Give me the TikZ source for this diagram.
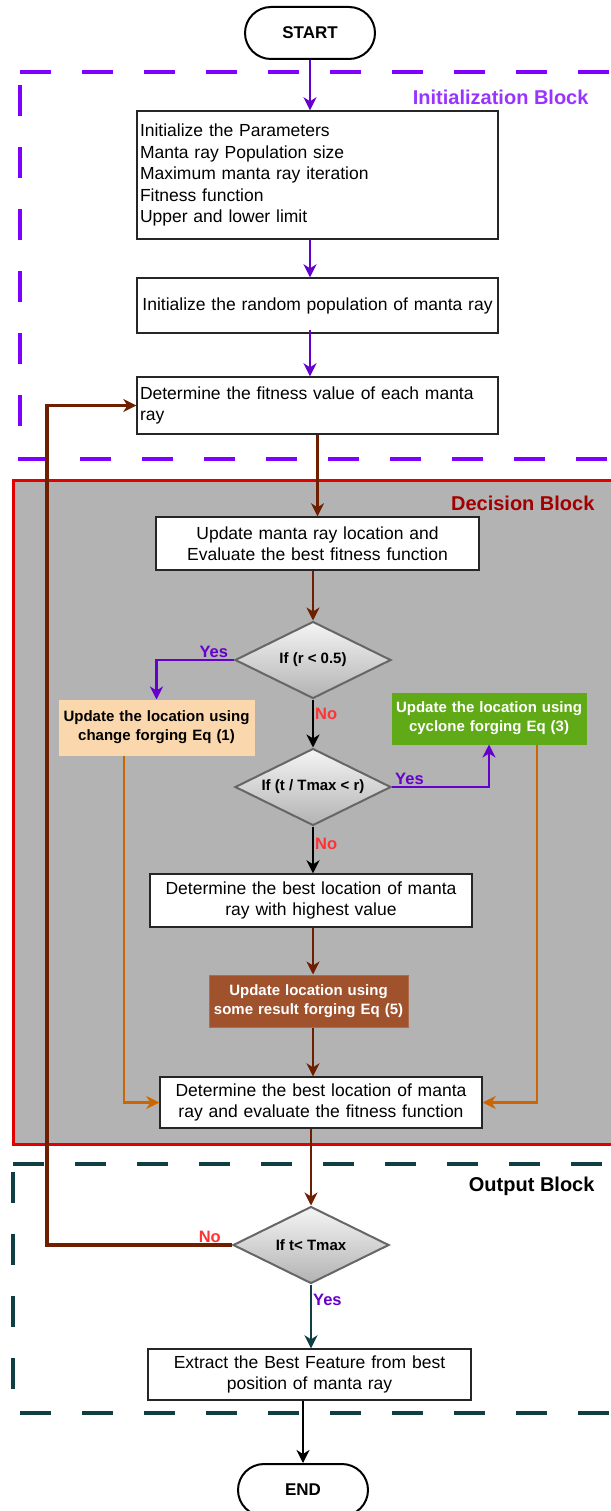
\documentclass[tikz,border=0pt]{standalone}
\usepackage{fontspec}
\setmainfont{Liberation Sans}
\usepackage{tikz}
\usetikzlibrary{arrows.meta,positioning,shapes.geometric}
\definecolor{initline}{HTML}{7F00FF}
\definecolor{inittext}{HTML}{9933FF}
\definecolor{yesviolet}{HTML}{6600CC}
\definecolor{rust}{HTML}{6D1F00}
\definecolor{decred}{HTML}{E00000}
\definecolor{dectext}{HTML}{A20000}
\definecolor{panel}{HTML}{B3B3B3}
\definecolor{cpeach}{HTML}{FAD7AC}
\definecolor{leaf}{HTML}{60A917}
\definecolor{csienna}{HTML}{A0522D}
\definecolor{ochre}{HTML}{CC6600}
\definecolor{nored}{HTML}{FF3333}
\definecolor{deepteal}{HTML}{0E3F45}

\begin{document}
\begin{tikzpicture}[x=1pt, y=-1pt,
  procbox/.style={draw=black!85, line width=1.4pt, fill=white, font={\fontsize{17.5}{21.5}\selectfont}, align=center, inner sep=3pt},
  colbox/.style={line width=1pt, font={\fontsize{15}{19}\selectfont\bfseries}, align=center, inner sep=2pt},
  decide/.style={diamond, aspect=2, draw=black!60, line width=2pt, top color=black!4, bottom color=black!30,
    font={\fontsize{15}{18}\selectfont\bfseries}, inner sep=1pt, minimum width=156pt, minimum height=77pt},
  term/.style={draw, line width=2pt, fill=white, rounded corners=26pt, minimum width=130pt, minimum height=52pt,
    font={\fontsize{17}{20}\selectfont\bfseries}},
  flow/.style={line width=2.3pt, -{Stealth[length=13pt, width=13pt, inset=4pt]}},
  lbl/.style={font={\fontsize{16.5}{18}\selectfont\bfseries}, inner sep=1pt},
  blocktitle/.style={font={\fontsize{20}{24}\selectfont\bfseries}, anchor=east},
  blockdash/.style={line width=3.5pt, dash pattern=on 31pt off 31pt}]
  \useasboundingbox (0,0) rectangle (610,1511);
  % blocks
  \draw[initline, blockdash] (20,72) -- (640,72);
  \draw[initline, blockdash] (20,85) -- (20,459) -- (640,459);
  \draw[decred, line width=3pt, fill=panel] (640,480) -- (13,480) -- (13,1144) -- (640,1144);
  \draw[deepteal, blockdash] (13,1164) -- (640,1164);
  \draw[deepteal, blockdash] (13,1172) -- (13,1413) -- (640,1413);
  \node[blocktitle, text=inittext] (inittitle) at (592,97) {Initialization Block};
  \node[blocktitle, text=dectext] (dectitle) at (598,503) {Decision Block};
  \node[blocktitle, text=black] (outtitle) at (598,1186) {Output Block};
  % steps
  \node[term] (start) at (310,33) {START};
  \node[procbox, text width=355pt, align=left, minimum height=128pt] (params) at (317.5,175)
       {Initialize the Parameters\\Manta ray Population size\\Maximum manta ray iteration\\Fitness function\\Upper and lower limit};
  \node[procbox, text width=355pt, minimum height=55pt] (randpop) at (317.5,305.5) {Initialize the random population of manta ray};
  \node[procbox, text width=355pt, align=left, minimum height=57pt] (fitval) at (317.5,405.5) {Determine the fitness value of each manta\\ray};
  \node[procbox, text width=317pt, minimum height=53pt] (update) at (317.5,543.5) {Update manta ray location and\\Evaluate the best fitness function};
  \node[decide] (rcheck) at (313,660) {If (r < 0.5)};
  \node[colbox, fill=cpeach, draw=cpeach, text width=191pt, minimum height=55pt] (chgforge) at (156.5,727.5) {Update the location using\\change forging Eq (1)};
  \node[colbox, fill=leaf, draw=leaf, text=white, text width=190pt, minimum height=51pt] (cycforge) at (489,718.5) {Update the location using\\cyclone forging Eq (3)};
  \node[decide] (tcheck) at (313,787) {If (t / Tmax < r)};
  \node[procbox, text width=316pt, minimum height=53pt] (bestloc) at (311,900.5) {Determine the best location of manta\\ray with highest value};
  \node[colbox, fill=csienna, draw=csienna!85!white, text=white, text width=195pt, minimum height=52pt] (resforge) at (308.5,1001) {Update location using\\some result forging Eq (5)};
  \node[procbox, text width=316pt, minimum height=51pt] (besteval) at (321,1102.5) {Determine the best location of manta\\ray and evaluate the fitness function};
  \node[decide] (tmaxcheck) at (311,1245) {If t< Tmax};
  \node[procbox, text width=317pt, minimum height=51pt] (extract) at (309.5,1374.5) {Extract the Best Feature from best\\position of manta ray};
  \node[term] (stop) at (303,1490) {END};
  \coordinate (lback) at (47,0);
  \coordinate (ldrop) at (124,0);
  \coordinate (rdrop) at (537,0);
  % initialization flow
  \draw[flow, yesviolet] (start.south) -- (start.south |- params.north);
  \draw[flow, yesviolet] (params.south -| start) -- (randpop.north -| start);
  \draw[flow, yesviolet] ([yshift=4pt]randpop.south -| start) -- (fitval.north -| start);
  % decision flow
  \draw[flow, rust] (fitval.south) -- (update.north);
  \draw[flow, rust] (update.south -| rcheck) -- (rcheck.north);
  \draw[flow, yesviolet] (rcheck.west) -| node[lbl, pos=0.13, above, text=yesviolet] {Yes} (chgforge.north);
  \draw[flow, black] (rcheck.south) -- node[lbl, pos=0.3, right, text=nored] {No} (tcheck.north);
  \draw[flow, yesviolet] (tcheck.east) -| node[lbl, pos=0.09, above, text=yesviolet] {Yes} (cycforge.south);
  \draw[flow, black] (tcheck.south) -- node[lbl, pos=0.37, right, text=nored] {No} (tcheck.south |- bestloc.north);
  \draw[flow, rust] (bestloc.south -| tcheck) -- (resforge.north -| tcheck);
  \draw[flow, rust] (resforge.south -| tcheck) -- (besteval.north -| tcheck);
  \draw[flow, ochre] (chgforge.south -| ldrop) |- (besteval.west);
  \draw[flow, ochre] (cycforge.south -| rdrop) |- (besteval.east);
  % output flow
  \draw[flow, rust] (besteval.south -| tmaxcheck) -- (tmaxcheck.north);
  \draw[flow, rust, line width=3.2pt] (tmaxcheck.west) -- node[lbl, pos=0.12, above, text=nored] {No} (tmaxcheck.west -| lback) |- (fitval.west);
  \draw[flow, deepteal] (tmaxcheck.south) -- node[lbl, pos=0.24, right, text=yesviolet] {Yes} (tmaxcheck.south |- extract.north);
  \draw[flow, black] (extract.south -| stop) -- (stop.north);
\end{tikzpicture}
\end{document}
